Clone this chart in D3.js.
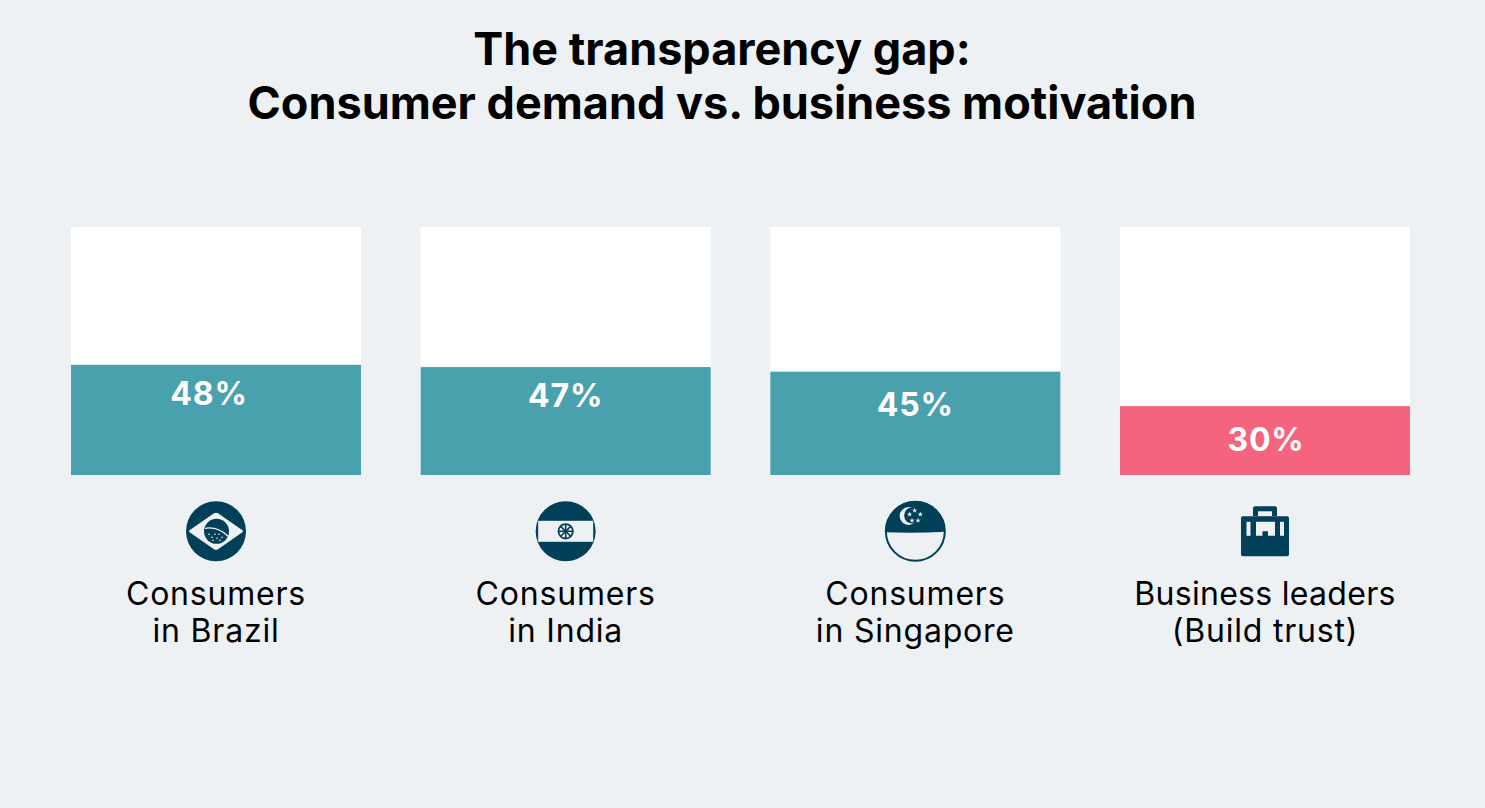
<!DOCTYPE html>
<html>
<head>
<meta charset="utf-8">
<script src="https://cdn.jsdelivr.net/npm/d3@7"></script>
<style>
html,body{margin:0;padding:0;background:#edf1f4;overflow:hidden}
text{font-family:Inter,sans-serif}
</style>
</head>
<body>
<svg id="chart" width="1485" height="808"></svg>
<script>
const titleLines = ["The transparency gap:", "Consumer demand vs. business motivation"];
const categories = ["Brazil", "India", "Singapore", "Leaders"];
const values = [48, 47, 45, 30];
const valueLabels = ["48%", "47%", "45%", "30%"];
const labelLines = [["Consumers", "in Brazil"], ["Consumers", "in India"], ["Consumers", "in Singapore"], ["Business leaders", "(Build trust)"]];
const barColors = ["#4aa1ae", "#4aa1ae", "#4aa1ae", "#f4647e"];
const icons = ["brazil", "india", "singapore", "briefcase"];
const trackMax = 108;

const navy = "#023f58";
const paper = "#edf1f4";
const svg = d3.select("#chart");

svg.selectAll("text.title").data(titleLines).join("text")
  .attr("class", "title").attr("x", 722).attr("y", (d, i) => 65 + i * 54)
  .attr("text-anchor", "middle").attr("font-size", 45).attr("font-weight", 700)
  .attr("fill", "#000").text(d => d);

const x = d3.scaleBand().domain(categories).range([71, 1410]).paddingInner(0.1706).paddingOuter(0);
const y = d3.scaleLinear().domain([0, trackMax]).range([475, 227]);
const bw = x.bandwidth();

svg.selectAll("rect.track").data(categories).join("rect")
  .attr("class", "track").attr("x", d => x(d)).attr("width", bw)
  .attr("y", y(trackMax)).attr("height", y(0) - y(trackMax)).attr("fill", "#fff");

svg.selectAll("rect.bar").data(categories).join("rect")
  .attr("class", "bar").attr("x", d => x(d)).attr("width", bw)
  .attr("y", (d, i) => y(values[i])).attr("height", (d, i) => y(0) - y(values[i]))
  .attr("fill", (d, i) => barColors[i]);

// Percent labels: nudged per column so they sit clear of the bar top
const valueDx = [-7, 0, 0, 1];
const valueDy = [40, 40, 44, 45];
svg.selectAll("text.value").data(categories).join("text")
  .attr("class", "value").attr("x", (d, i) => x(d) + bw / 2 + valueDx[i])
  .attr("y", (d, i) => y(values[i]) + valueDy[i]).attr("text-anchor", "middle")
  .attr("font-size", 32).attr("font-weight", 700).attr("fill", "#fff")
  .attr("letter-spacing", 0.8).text((d, i) => valueLabels[i]);

const labels = svg.selectAll("g.label").data(categories).join("g")
  .attr("class", "label").attr("transform", d => `translate(${x(d) + bw / 2},0)`);
labels.selectAll("text").data((d, i) => labelLines[i]).join("text")
  .attr("y", (d, i) => 605 + i * 37).attr("text-anchor", "middle")
  .attr("font-size", 32).attr("fill", "#000")
  .attr("letter-spacing", d => d === "Business leaders" ? 0.3 : 0.8).text(d => d);

// Each icon is drawn around its own centre under the column
const iconG = svg.selectAll("g.icon").data(categories).join("g")
  .attr("class", "icon").attr("transform", d => `translate(${x(d) + bw / 2},531.3)`);

iconG.each(function(d, i) {
  const g = d3.select(this);
  const kind = icons[i];
  if (kind === "brazil") {
    g.append("circle").attr("r", 30).attr("fill", navy);
    g.append("path").attr("d", "M-27,0Q-27,-1 -25,-2L-2,-18Q0,-19 2,-18L25,-2Q27,-1 27,0Q27,1 25,2L2,18Q0,19 -2,18L-25,2Q-27,1 -27,0Z").attr("fill", paper);
    g.append("circle").attr("cx", 0.5).attr("r", 12.5).attr("fill", navy);
    g.append("path").attr("d", "M-11,-3Q2,-5 12,5").attr("fill", "none").attr("stroke", paper).attr("stroke-width", 1.3);
    [[-7, 3], [-4, 6], [-1, 3], [-3, 9], [1, 7], [4, 9], [6, 6], [3, 3]].forEach(p => {
      g.append("circle").attr("cx", p[0]).attr("cy", p[1]).attr("r", 0.8).attr("fill", paper);
    });
  } else if (kind === "india") {
    g.append("circle").attr("r", 30).attr("fill", navy);
    g.append("rect").attr("x", -27.5).attr("y", -10.5).attr("width", 55).attr("height", 21).attr("fill", paper);
    g.append("circle").attr("r", 7.2).attr("fill", "none").attr("stroke", navy).attr("stroke-width", 1.8);
    d3.range(4).forEach(k => {
      const a = k * Math.PI / 4;
      g.append("line").attr("x1", -7 * Math.cos(a)).attr("y1", -7 * Math.sin(a))
        .attr("x2", 7 * Math.cos(a)).attr("y2", 7 * Math.sin(a))
        .attr("stroke", navy).attr("stroke-width", 1.6);
    });
  } else if (kind === "singapore") {
    g.append("circle").attr("r", 29.5).attr("fill", paper).attr("stroke", navy).attr("stroke-width", 2);
    g.append("path").attr("d", "M-30,0A30,30 0 0 1 30,0L30,0.5Q0,2 -30,1Z").attr("fill", navy);
    g.append("circle").attr("cx", -6.7).attr("cy", -15.3).attr("r", 9).attr("fill", paper);
    g.append("circle").attr("cx", -3.2).attr("cy", -15.8).attr("r", 8).attr("fill", navy);
    const star = d3.symbol().type(d3.symbolStar).size(9);
    [[-0.7, -20.8], [-5.7, -17], [5, -17], [-3.3, -10.8], [2.7, -10.8]].forEach(p => {
      g.append("path").attr("d", star()).attr("transform", `translate(${p[0]},${p[1]})`).attr("fill", paper);
    });
  } else {
    g.append("path").attr("d", "M-12,-15V-23Q-12,-25 -10,-25H10Q12,-25 12,-23V-15Z").attr("fill", navy);
    g.append("rect").attr("x", -7).attr("y", -20).attr("width", 14).attr("height", 5).attr("fill", paper);
    g.append("path").attr("d", "M-24,-13Q-24,-15 -22,-15H22Q24,-15 24,-13V23Q24,25 22,25H-22Q-24,25 -24,23Z").attr("fill", navy);
    g.append("rect").attr("x", -18.5).attr("y", -9.5).attr("width", 4).attr("height", 14).attr("fill", paper);
    g.append("rect").attr("x", 15).attr("y", -9.5).attr("width", 4).attr("height", 14).attr("fill", paper);
    g.append("path").attr("d", "M-9,-9.5H10V4.5H3V0H-2.5V4.5H-9Z").attr("fill", paper);
  }
});
</script>
</body>
</html>
